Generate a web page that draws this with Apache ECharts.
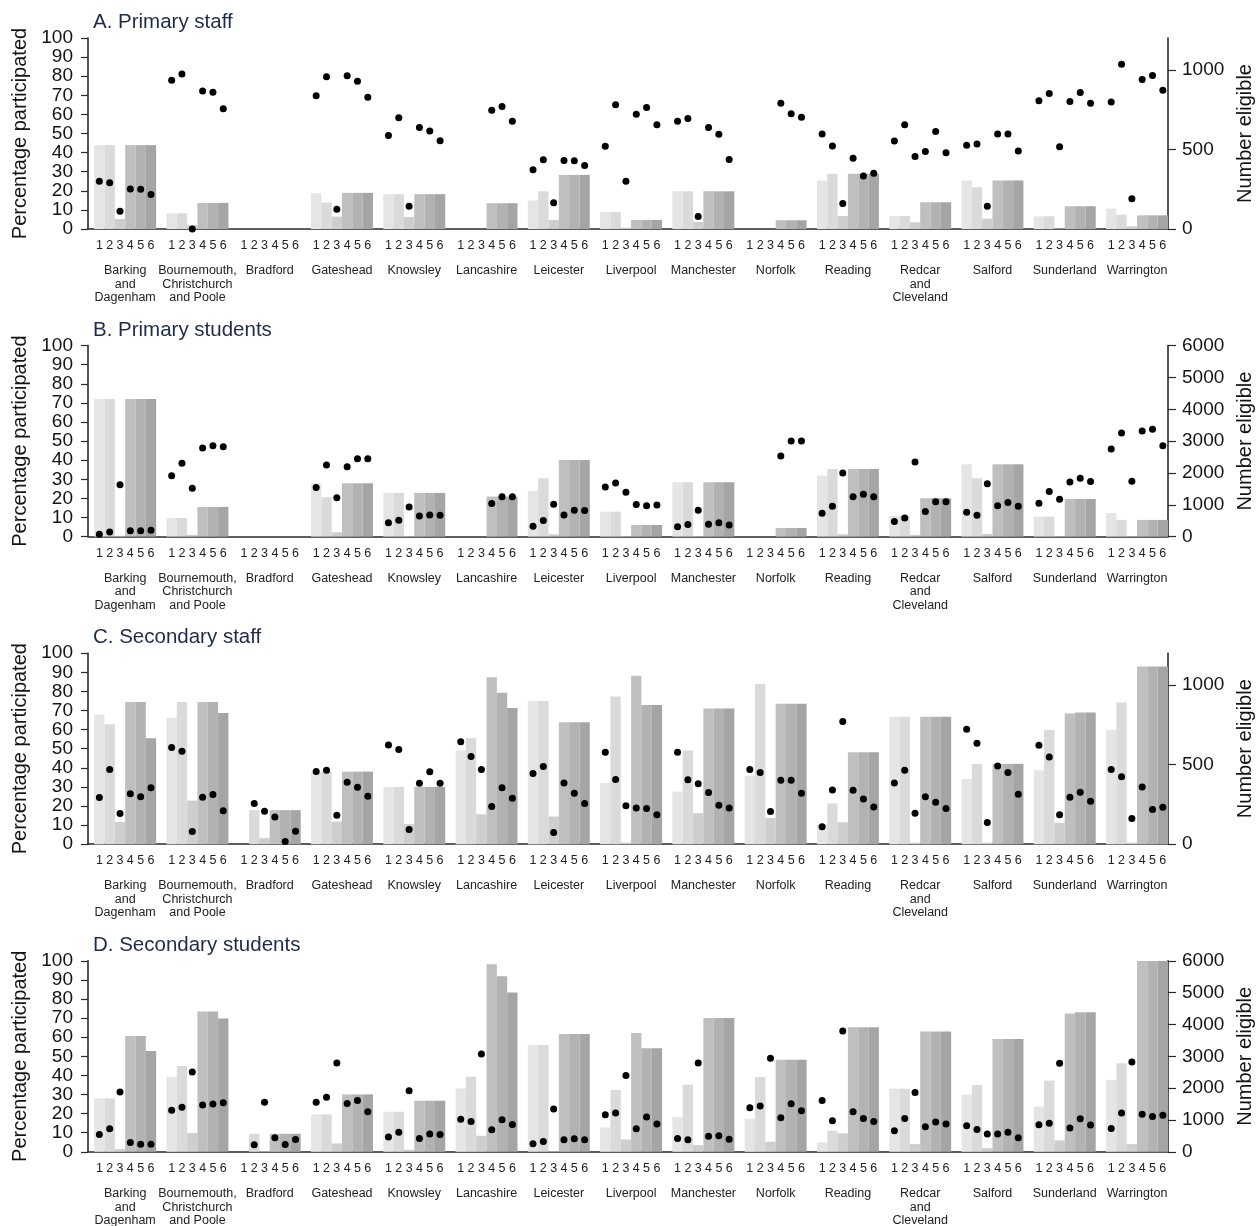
<!DOCTYPE html>
<html>
<head>
<meta charset="utf-8">
<script src="https://cdn.jsdelivr.net/npm/echarts@6/dist/echarts.min.js"></script>
<style>
  html, body { margin: 0; padding: 0; background: #fff; }
  #chart { width: 1257px; height: 1226px; }
</style>
</head>
<body>
<div id="chart"></div>
<script>
// Local authorities (group labels, with the line breaks used under the axis)
const areas = [
  'Barking\nand\nDagenham', 'Bournemouth,\nChristchurch\nand Poole', 'Bradford', 'Gateshead',
  'Knowsley', 'Lancashire', 'Leicester', 'Liverpool', 'Manchester', 'Norfolk', 'Reading',
  'Redcar\nand\nCleveland', 'Salford', 'Sunderland', 'Warrington'
];
const rounds = ['1', '2', '3', '4', '5', '6'];
const panelTitles = ['A. Primary staff', 'B. Primary students', 'C. Secondary staff', 'D. Secondary students'];

// Number eligible per area and round
const primaryStaffEligible = [
  [527, 527, 63, 527, 527, 527],
  [99, 99, 25, 164, 164, 164],
  [null, null, null, null, null, null],
  [225, 166, 78, 227, 227, 227],
  [219, 219, 76, 219, 219, 219],
  [null, null, null, 162, 162, 162],
  [179, 237, 57, 340, 340, 340],
  [107, 107, 8, 57, 57, 57],
  [237, 237, 44, 237, 237, 237],
  [null, null, null, 55, 55, 55],
  [305, 347, 82, 347, 347, 347],
  [82, 82, 42, 168, 168, 168],
  [305, 263, 65, 305, 305, 305],
  [80, 80, 3, 143, 143, 143],
  [128, 90, 17, 86, 86, 86]
];
const primaryStudentsEligible = [
  [4325, 4325, 20, 4325, 4325, 4325],
  [586, 586, 52, 932, 932, 932],
  [null, null, null, null, null, null],
  [1675, 1236, 136, 1675, 1675, 1675],
  [1372, 1372, 20, 1372, 1372, 1372],
  [null, null, null, 1257, 1257, 1257],
  [1435, 1832, 73, 2408, 2408, 2408],
  [785, 785, 20, 366, 366, 366],
  [1707, 1707, 20, 1707, 1707, 1707],
  [null, null, null, 272, 272, 272],
  [1916, 2126, 73, 2126, 2126, 2126],
  [649, 649, 52, 1204, 1204, 1204],
  [2272, 1832, 84, 2272, 2272, 2272],
  [628, 628, 20, 1183, 1183, 1183],
  [743, 524, 20, 524, 524, 524]
];
const secondaryStaffEligible = [
  [815, 754, 140, 894, 894, 666],
  [794, 894, 274, 894, 894, 825],
  [null, 214, 38, 214, 214, 214],
  [456, 456, 142, 456, 456, 456],
  [360, 360, 126, 360, 360, 360],
  [588, 668, 188, 1049, 951, 856],
  [900, 900, 174, 766, 766, 766],
  [385, 928, 10, 1058, 875, 875],
  [331, 588, 195, 852, 852, 852],
  [429, 1007, 165, 882, 882, 882],
  [124, 256, 138, 578, 578, 578],
  [800, 800, 10, 800, 800, 800],
  [410, 505, 10, 505, 505, 505],
  [465, 718, 134, 821, 827, 827],
  [718, 890, 10, 1116, 1116, 1116]
];
const secondaryStudentsEligible = [
  [1678, 1678, 84, 3640, 3640, 3168],
  [2350, 2696, 587, 4406, 4406, 4185],
  [null, 566, 20, 566, 566, 566],
  [1175, 1175, 262, 1804, 1804, 1804],
  [1259, 1259, 63, 1605, 1605, 1605],
  [1993, 2360, 503, 5895, 5517, 5003],
  [3357, 3357, 20, 3703, 3703, 3703],
  [766, 1941, 388, 3734, 3252, 3252],
  [1091, 2108, 210, 4206, 4206, 4206],
  [1038, 2350, 315, 2895, 2895, 2895],
  [294, 661, 577, 3913, 3913, 3913],
  [1983, 1983, 241, 3776, 3776, 3776],
  [1794, 2098, 115, 3545, 3545, 3545],
  [1419, 2238, 357, 4343, 4380, 4380],
  [2259, 2784, 241, 5990, 5990, 5990]
];

// Percentage participated per area and round
const primaryStaffPct = [
  [25.0, 24.2, 9.3, 21.0, 20.8, 18.0],
  [77.9, 81.1, 0, 72.2, 71.6, 62.9],
  [null, null, null, null, null, null],
  [69.7, 79.7, 10.3, 80.2, 77.4, 69.0],
  [48.9, 58.3, 11.9, 53.2, 51.3, 46.2],
  [null, null, null, 62.2, 64.1, 56.4],
  [31.0, 36.3, 13.8, 35.9, 35.7, 33.3],
  [43.3, 65.0, 25.0, 60.1, 63.6, 54.6],
  [56.4, 57.8, 6.5, 53.1, 49.6, 36.4],
  [null, null, null, 65.8, 60.4, 58.5],
  [49.7, 43.4, 13.3, 37.0, 27.8, 29.2],
  [46.1, 54.6, 38.0, 40.6, 51.0, 39.9],
  [43.8, 44.5, 11.9, 49.7, 49.7, 40.8],
  [67.1, 70.9, 43.1, 66.7, 71.5, 65.8],
  [66.5, 86.2, 15.8, 78.3, 80.4, 72.7]
];
const primaryStudentsPct = [
  [1.2, 2.4, 27.1, 3.0, 3.1, 3.3],
  [31.9, 38.4, 25.3, 46.4, 47.6, 47.1],
  [null, null, null, null, null, null],
  [25.7, 37.5, 20.4, 36.6, 40.8, 40.8],
  [7.2, 8.6, 15.5, 10.8, 11.3, 11.2],
  [null, null, null, 17.3, 20.9, 20.8],
  [5.4, 8.4, 16.9, 11.3, 13.8, 13.6],
  [26.0, 28.1, 23.2, 16.8, 16.2, 16.6],
  [5.1, 6.3, 13.8, 6.5, 7.3, 6.1],
  [null, null, null, 42.2, 50.1, 50.1],
  [12.2, 15.9, 33.3, 20.9, 22.2, 20.9],
  [7.9, 9.8, 39.1, 13.1, 18.2, 18.2],
  [12.7, 11.2, 27.7, 16.2, 17.8, 15.9],
  [17.5, 23.6, 19.5, 28.6, 30.5, 28.8],
  [45.9, 54.3, 29.0, 55.3, 56.2, 47.6]
];
const secondaryStaffPct = [
  [24.4, 39.1, 16.1, 26.4, 24.8, 29.5],
  [50.6, 48.7, 6.6, 24.6, 26.0, 17.5],
  [null, 21.3, 17.3, 14.3, 1.4, 6.8],
  [38.0, 38.7, 15.2, 32.5, 29.8, 25.1],
  [52.0, 49.6, 7.7, 31.9, 37.9, 31.9],
  [53.6, 45.9, 39.1, 19.7, 29.5, 24.1],
  [37.0, 40.7, 6.1, 32.1, 26.7, 21.3],
  [48.2, 33.9, 20.1, 19.0, 18.7, 15.4],
  [48.2, 33.7, 31.6, 27.1, 20.4, 19.0],
  [39.1, 37.5, 17.1, 33.5, 33.5, 26.7],
  [9.1, 28.4, 64.2, 28.3, 23.6, 19.5],
  [32.1, 38.7, 16.2, 24.8, 22.0, 18.7],
  [60.2, 52.9, 11.3, 41.0, 37.5, 26.2],
  [51.8, 45.7, 15.4, 24.6, 27.2, 22.5],
  [39.1, 35.3, 13.4, 30.0, 18.2, 19.4]
];
const secondaryStudentsPct = [
  [9.1, 12.1, 31.3, 4.9, 4.0, 4.0],
  [21.7, 23.3, 41.8, 24.5, 25.0, 25.7],
  [null, 3.7, 26.0, 7.3, 3.8, 6.5],
  [25.9, 28.5, 46.5, 25.3, 26.9, 21.0],
  [7.7, 10.3, 32.0, 7.0, 9.3, 9.1],
  [17.1, 15.9, 51.2, 11.5, 16.8, 14.3],
  [4.2, 5.4, 22.4, 6.3, 6.8, 6.3],
  [19.4, 20.3, 39.9, 12.1, 18.2, 14.5],
  [7.0, 6.3, 46.5, 8.2, 8.4, 6.6],
  [23.1, 24.0, 49.0, 17.8, 25.2, 21.5],
  [26.9, 16.3, 63.3, 21.0, 17.5, 15.9],
  [11.0, 17.5, 31.1, 13.1, 15.6, 14.5],
  [13.6, 11.7, 9.3, 9.3, 10.3, 7.3],
  [14.2, 15.0, 46.3, 12.4, 17.3, 14.0],
  [12.2, 20.3, 47.0, 19.6, 18.5, 19.2]
];

// Right-axis scale per panel
const eligibleMax = [1200, 6000, 1200, 6000];
const eligibleTicks = [[0, 500, 1000], [0, 1000, 2000, 3000, 4000, 5000, 6000], [0, 500, 1000], [0, 1000, 2000, 3000, 4000, 5000, 6000]];
const pctTicks = [0, 10, 20, 30, 40, 50, 60, 70, 80, 90, 100];

// Grey ramp, lightest for round 1
const roundColors = ['#e5e5e5', '#dadada', '#cecece', '#bfbfbf', '#b2b2b2', '#a5a5a5'];

const panels = [
  { eligible: primaryStaffEligible, pct: primaryStaffPct },
  { eligible: primaryStudentsEligible, pct: primaryStudentsPct },
  { eligible: secondaryStaffEligible, pct: secondaryStaffPct },
  { eligible: secondaryStudentsEligible, pct: secondaryStudentsPct }
];

// Each area takes 6 bar slots plus one empty slot; the last group runs up to the right axis
const perGroup = rounds.length + 1;
const slotCount = areas.length * perGroup;
const slotOf = (g, r) => g * perGroup + 1 + r;
const axisMin = -0.1;
const axisMax = slotCount - 0.5;
const roundPositions = [];
const roundAt = {};
areas.forEach((a, g) => rounds.forEach((lab, r) => {
  roundPositions.push(slotOf(g, r));
  roundAt[slotOf(g, r)] = lab;
}));
const groupCentres = areas.map((a, g) => g * perGroup + 3.5);
const areaAt = {};
areas.forEach((a, g) => { areaAt[groupCentres[g]] = a; });

const FONT = '"Liberation Sans", Arial, Helvetica, sans-serif';
const AXIS_COLOR = '#2a2a2a';
const TEXT_COLOR = '#141414';
const PANEL_STEP = 307.6;
const GRID_TOP = 38;
const GRID_H = 191;

const grid = [], xAxis = [], yAxis = [], series = [], title = [];

panels.forEach((p, i) => {
  const top = GRID_TOP + PANEL_STEP * i;
  grid.push({ left: 88, right: 89, top: top, height: GRID_H, containLabel: false, outerBoundsMode: 'none' });
  title.push({
    text: panelTitles[i], left: 93, top: top - 26, padding: 0,
    textStyle: { fontSize: 20.5, fontWeight: 'normal', color: '#1f2b4d', fontFamily: FONT }
  });

  // Round numbers under every bar
  xAxis.push({
    type: 'value', gridIndex: i, min: axisMin, max: axisMax, position: 'bottom',
    axisLine: { show: true, onZero: false, lineStyle: { color: AXIS_COLOR, width: 1.6 } },
    axisTick: { show: false },
    splitLine: { show: false },
    axisLabel: {
      customValues: roundPositions,
      formatter: v => roundAt[Math.round(v)] || '',
      fontSize: 12.5, color: '#222', margin: 10, fontFamily: FONT
    }
  });
  // Area names centred under each group
  xAxis.push({
    type: 'value', gridIndex: i, min: axisMin, max: axisMax, position: 'bottom',
    axisLine: { show: false, onZero: false }, axisTick: { show: false }, splitLine: { show: false },
    axisLabel: {
      customValues: groupCentres,
      formatter: v => areaAt[v] || '',
      margin: 35, fontSize: 12.5, lineHeight: 13.5, color: '#222', fontFamily: FONT
    }
  });

  yAxis.push({
    type: 'value', gridIndex: i, position: 'left', min: 0, max: 100, interval: 10,
    name: 'Percentage participated', nameLocation: 'middle', nameGap: 56,
    nameTextStyle: { fontSize: 20, color: TEXT_COLOR, fontFamily: FONT },
    axisLine: { show: true, onZero: false, lineStyle: { color: AXIS_COLOR, width: 1.6 } },
    axisTick: { show: true, length: 7, lineStyle: { color: AXIS_COLOR, width: 1.2 } },
    axisLabel: { fontSize: 19, color: TEXT_COLOR, margin: 15, fontFamily: FONT, customValues: pctTicks },
    splitLine: { show: false }
  });
  yAxis.push({
    type: 'value', gridIndex: i, position: 'right', min: 0, max: eligibleMax[i],
    name: 'Number eligible', nameLocation: 'middle', nameGap: 55,
    nameTextStyle: { fontSize: 20, color: TEXT_COLOR, fontFamily: FONT },
    axisLine: { show: true, onZero: false, lineStyle: { color: AXIS_COLOR, width: 1.6 } },
    axisTick: { show: true, length: 8, customValues: eligibleTicks[i], lineStyle: { color: AXIS_COLOR, width: 1.2 } },
    axisLabel: {
      fontSize: 19, color: TEXT_COLOR, margin: 14, fontFamily: FONT,
      customValues: eligibleTicks[i], formatter: v => String(v)
    },
    splitLine: { show: false }
  });

  const barData = [], dotData = [];
  p.eligible.forEach((row, g) => row.forEach((n, r) => {
    if (n !== null) barData.push({ value: [slotOf(g, r), n], itemStyle: { color: roundColors[r] } });
  }));
  p.pct.forEach((row, g) => row.forEach((v, r) => {
    if (v !== null) dotData.push([slotOf(g, r), v]);
  }));

  series.push({
    type: 'bar', xAxisIndex: 2 * i, yAxisIndex: 2 * i + 1,
    barWidth: '100%', data: barData, silent: true
  });
  series.push({
    type: 'scatter', xAxisIndex: 2 * i, yAxisIndex: 2 * i,
    symbol: 'circle', symbolSize: 7, itemStyle: { color: '#000', opacity: 1 },
    data: dotData, silent: true, z: 5
  });
});

const chart = echarts.init(document.getElementById('chart'), null, { renderer: 'canvas' });
chart.setOption({
  animation: false,
  backgroundColor: '#fff',
  textStyle: { fontFamily: FONT },
  title, grid, xAxis, yAxis, series
});
</script>
</body>
</html>
